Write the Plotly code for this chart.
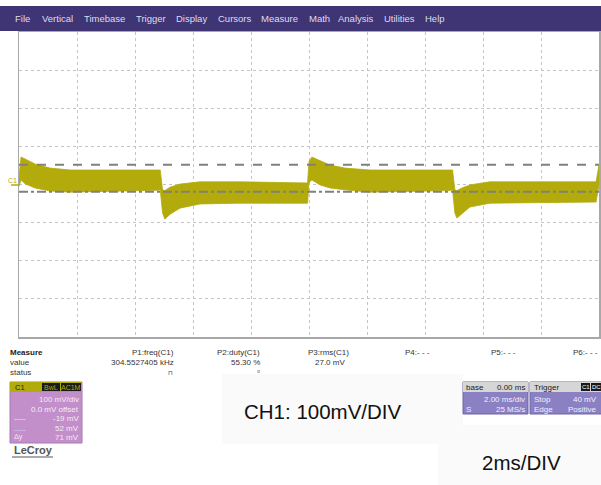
import plotly.graph_objects as go

# ---------------- data ----------------
# waveform envelope of C1: time in ms (2 ms/div, trigger at 0), voltage in mV (100 mV/div)
t_ms = [-10.00, -9.93, -9.79, -9.45, -8.93, -8.24, -5.20, -5.13, -5.05, -4.97, -4.79,
        -4.45, -3.76, -2.38, -0.05, 0.00, 0.10, 0.38, 0.72, 1.24, 2.10, 4.85, 4.95,
        5.03, 5.10, 5.28, 5.55, 6.24, 9.90, 10.00]
upper_mv = [20, 72, 67, 54, 43, 38, 38, 38, -14, -16, -7,
            1, 7, 7, 4, 60, 72, 62, 51, 43, 38, 38, 38,
            -14, -16, -9, -1, 7, 7, 51]
lower_mv = [-5, 12, 2, -9, -17, -20, -15, -14, -75, -91, -78,
            -62, -51, -49, -49, 5, 12, -1, -9, -14, -20, -16, -14,
            -75, -88, -75, -59, -49, -46, 0]
cursor_upper_mv = 52
cursor_lower_mv = -19
trigger_level_mv = 40
trigger_time_ms = 0

menu_items = ["File", "Vertical", "Timebase", "Trigger", "Display", "Cursors",
              "Measure", "Math", "Analysis", "Utilities", "Help"]
measure_params = ["P1:freq(C1)", "P2:duty(C1)", "P3:rms(C1)", "P4:- - -", "P5:- - -", "P6:- - -"]
measure_values = ["304.5527405 kHz", "55.30 %", "27.0 mV", "", "", ""]
ch_rows = ["100 mV/div", "0.0 mV offset", "-19 mV", "52 mV", "71 mV"]
ch_row_labels = ["", "", "-----", "......", "Δy"]

# ---------------- layout helpers ----------------
W, H = 601, 485
FONT = "Liberation Sans"
TRACE = "#b3ab0c"


def X(px):
    return px / W


def Y(py):
    return 1 - py / H


fig = go.Figure()

fig.add_trace(go.Scatter(
    x=t_ms + t_ms[::-1], y=upper_mv + lower_mv[::-1],
    fill="toself", fillcolor=TRACE, mode="lines",
    line=dict(color=TRACE, width=0.8), hoverinfo="skip", showlegend=False))

# trigger position marker (bottom) and trigger level marker (right)
fig.add_trace(go.Scatter(x=[trigger_time_ms], y=[-410], mode="markers",
                         marker=dict(symbol="triangle-up", size=7, color="#c9c200"),
                         cliponaxis=False, showlegend=False, hoverinfo="skip"))
fig.add_trace(go.Scatter(x=[10.05], y=[trigger_level_mv], mode="markers",
                         marker=dict(symbol="triangle-left", size=6, color="#c9c200"),
                         cliponaxis=False, showlegend=False, hoverinfo="skip"))

fig.add_hline(y=cursor_upper_mv, line=dict(color="#808080", width=2, dash="dash"))
fig.add_hline(y=cursor_lower_mv, line=dict(color="#808080", width=2, dash="dashdot"))

shapes = []
ann = []

# menu bar
shapes.append(dict(type="rect", xref="paper", yref="paper", x0=0, x1=1, y0=Y(31), y1=Y(6),
                   fillcolor="#403574", line=dict(width=0), layer="above"))
menu_x = [13, 40, 82, 134, 174, 216, 259, 307, 336, 382, 423]
for name, mx in zip(menu_items, menu_x):
    ann.append(dict(x=X(mx), y=Y(19), text=name, xanchor="left", yanchor="middle",
                    font=dict(family=FONT, size=9.5, color="#dcdcf0")))

# C1 ground marker
ann.append(dict(x=X(12), y=Y(180), text="C1", xanchor="center", yanchor="middle",
                font=dict(family=FONT, size=7, color=TRACE)))
shapes.append(dict(type="line", xref="paper", yref="paper", x0=X(11), x1=X(19), y0=Y(185), y1=Y(185),
                   line=dict(color=TRACE, width=1.5)))

# measure table
ann.append(dict(x=X(8), y=Y(352), text="<b>Measure</b>", xanchor="left", yanchor="middle",
                font=dict(family=FONT, size=8, color="#222")))
ann.append(dict(x=X(8), y=Y(362), text="value", xanchor="left", yanchor="middle",
                font=dict(family=FONT, size=8, color="#333")))
ann.append(dict(x=X(8), y=Y(372), text="status", xanchor="left", yanchor="middle",
                font=dict(family=FONT, size=8, color="#333")))
col_right = [176, 262, 347, 432, 518, 600]
for p, v, cx in zip(measure_params, measure_values, col_right):
    if p.startswith("P3"):
        ann.append(dict(x=X(306), y=Y(352), text=p, xanchor="left", yanchor="middle",
                        font=dict(family=FONT, size=8, color="#333")))
    else:
        ann.append(dict(x=X(cx), y=Y(352), text=p, xanchor="right", yanchor="middle",
                        font=dict(family=FONT, size=8, color="#333")))
    if v:
        ann.append(dict(x=X(cx), y=Y(362), text=v, xanchor="right", yanchor="middle",
                        font=dict(family=FONT, size=8, color="#333")))
ann.append(dict(x=X(170), y=Y(372), text="⊓", xanchor="center", yanchor="middle",
                font=dict(family="DejaVu Sans", size=6, color="#333")))
ann.append(dict(x=X(258), y=Y(371), text="¤", xanchor="center", yanchor="middle",
                font=dict(family="DejaVu Sans", size=5, color="#555")))

# overlay boxes
shapes.append(dict(type="rect", xref="paper", yref="paper", x0=X(222), x1=X(463), y0=Y(444), y1=Y(374),
                   fillcolor="#fafafa", line=dict(width=0), layer="above"))
shapes.append(dict(type="rect", xref="paper", yref="paper", x0=X(438), x1=1, y0=0, y1=Y(425),
                   fillcolor="#fafafa", line=dict(width=0), layer="above"))
ann.append(dict(x=X(323), y=Y(411), text="CH1: 100mV/DIV", xanchor="center", yanchor="middle",
                font=dict(family=FONT, size=20.5, color="#111")))
ann.append(dict(x=X(521), y=Y(462), text="2ms/DIV", xanchor="center", yanchor="middle",
                font=dict(family=FONT, size=20.5, color="#111")))

# C1 channel box
shapes.append(dict(type="rect", xref="paper", yref="paper", x0=X(10), x1=X(82), y0=Y(443), y1=Y(382),
                   fillcolor="#c38fcb", line=dict(color="#a878b0", width=1), layer="above"))
shapes.append(dict(type="rect", xref="paper", yref="paper", x0=X(10), x1=X(82), y0=Y(392), y1=Y(382),
                   fillcolor=TRACE, line=dict(width=0), layer="above"))
shapes.append(dict(type="rect", xref="paper", yref="paper", x0=X(42), x1=X(60), y0=Y(391), y1=Y(383),
                   fillcolor="#1a1a1a", line=dict(width=0), layer="above"))
shapes.append(dict(type="rect", xref="paper", yref="paper", x0=X(61), x1=X(81), y0=Y(391), y1=Y(383),
                   fillcolor="#1a1a1a", line=dict(width=0), layer="above"))
ann.append(dict(x=X(13), y=Y(387), text="C1", xanchor="left", yanchor="middle",
                font=dict(family=FONT, size=7.5, color="#222")))
ann.append(dict(x=X(51), y=Y(387), text="BwL", xanchor="center", yanchor="middle",
                font=dict(family=FONT, size=7, color=TRACE)))
ann.append(dict(x=X(71), y=Y(387), text="AC1M", xanchor="center", yanchor="middle",
                font=dict(family=FONT, size=7, color=TRACE)))
row_y = [399, 409, 418, 428, 437]
for txt, lab, ry in zip(ch_rows, ch_row_labels, row_y):
    ann.append(dict(x=X(81), y=Y(ry), text=txt, xanchor="right", yanchor="middle",
                    font=dict(family=FONT, size=8, color="#f4eaf6")))
    if lab:
        ann.append(dict(x=X(12), y=Y(ry), text=lab, xanchor="left", yanchor="middle",
                        font=dict(family=FONT, size=7, color="#f4eaf6")))

# LeCroy logo
ann.append(dict(x=X(12), y=Y(450), text="<b>LeCroy</b>", xanchor="left", yanchor="middle",
                font=dict(family=FONT, size=11, color="#555")))
shapes.append(dict(type="line", xref="paper", yref="paper", x0=X(12), x1=X(53), y0=Y(457), y1=Y(457),
                   line=dict(color="#555", width=1)))

# timebase box (partly hidden)
shapes.append(dict(type="rect", xref="paper", yref="paper", x0=X(463), x1=X(528), y0=Y(414), y1=Y(382),
                   fillcolor="#8a80c2", line=dict(color="#6e66a6", width=1), layer="above"))
shapes.append(dict(type="rect", xref="paper", yref="paper", x0=X(463), x1=X(528), y0=Y(392), y1=Y(382),
                   fillcolor="#d6d6d6", line=dict(width=0), layer="above"))
ann.append(dict(x=X(464), y=Y(387), text="base", xanchor="left", yanchor="middle",
                font=dict(family=FONT, size=8, color="#222")))
ann.append(dict(x=X(527), y=Y(387), text="0.00 ms", xanchor="right", yanchor="middle",
                font=dict(family=FONT, size=8, color="#222")))
ann.append(dict(x=X(527), y=Y(399), text="2.00 ms/div", xanchor="right", yanchor="middle",
                font=dict(family=FONT, size=8, color="#f0f0ff")))
ann.append(dict(x=X(464), y=Y(409), text="S", xanchor="left", yanchor="middle",
                font=dict(family=FONT, size=8, color="#f0f0ff")))
ann.append(dict(x=X(527), y=Y(409), text="25 MS/s", xanchor="right", yanchor="middle",
                font=dict(family=FONT, size=8, color="#f0f0ff")))

# trigger box
shapes.append(dict(type="rect", xref="paper", yref="paper", x0=X(530), x1=X(603), y0=Y(414), y1=Y(382),
                   fillcolor="#8a80c2", line=dict(color="#6e66a6", width=1), layer="above"))
shapes.append(dict(type="rect", xref="paper", yref="paper", x0=X(530), x1=X(603), y0=Y(392), y1=Y(382),
                   fillcolor="#d6d6d6", line=dict(width=0), layer="above"))
shapes.append(dict(type="rect", xref="paper", yref="paper", x0=X(581), x1=X(590), y0=Y(391), y1=Y(383),
                   fillcolor="#1a1a1a", line=dict(width=0), layer="above"))
shapes.append(dict(type="rect", xref="paper", yref="paper", x0=X(591), x1=X(601), y0=Y(391), y1=Y(383),
                   fillcolor="#1a1a1a", line=dict(width=0), layer="above"))
ann.append(dict(x=X(532), y=Y(387), text="Trigger", xanchor="left", yanchor="middle",
                font=dict(family=FONT, size=8, color="#222")))
ann.append(dict(x=X(585.5), y=Y(387), text="C1", xanchor="center", yanchor="middle",
                font=dict(family=FONT, size=6, color="#ffffff")))
ann.append(dict(x=X(596), y=Y(387), text="DC", xanchor="center", yanchor="middle",
                font=dict(family=FONT, size=6, color="#ffffff")))
ann.append(dict(x=X(532), y=Y(399), text="Stop", xanchor="left", yanchor="middle",
                font=dict(family=FONT, size=8, color="#f0f0ff")))
ann.append(dict(x=X(599), y=Y(399), text="40 mV", xanchor="right", yanchor="middle",
                font=dict(family=FONT, size=8, color="#f0f0ff")))
ann.append(dict(x=X(532), y=Y(409), text="Edge", xanchor="left", yanchor="middle",
                font=dict(family=FONT, size=8, color="#f0f0ff")))
ann.append(dict(x=X(599), y=Y(409), text="Positive", xanchor="right", yanchor="middle",
                font=dict(family=FONT, size=8, color="#f0f0ff")))

for a in ann:
    a["xref"] = "paper"
    a["yref"] = "paper"
    a["showarrow"] = False

fig.update_layout(
    width=W, height=H, autosize=False,
    margin=dict(l=0, r=0, t=0, b=0),
    paper_bgcolor="white", plot_bgcolor="white",
    showlegend=False, hovermode=False,
    shapes=list(fig.layout.shapes) + shapes,
    annotations=ann,
    xaxis=dict(domain=[X(19), X(599)], range=[-10, 10], dtick=2, tick0=-10,
               showgrid=True, gridcolor="#c4c4c4", griddash="dot", gridwidth=1,
               showticklabels=False, ticks="", zeroline=False,
               showline=True, mirror=True, linecolor="#a8a8a8", linewidth=1.5, fixedrange=True),
    yaxis=dict(domain=[Y(337), Y(32)], range=[-400, 400], dtick=100, tick0=-400,
               showgrid=True, gridcolor="#c4c4c4", griddash="dot", gridwidth=1,
               showticklabels=False, ticks="", zeroline=False,
               showline=True, mirror=True, linecolor="#a8a8a8", linewidth=1.5, fixedrange=True),
)

fig.write_html("out.html", config={"displayModeBar": False, "staticPlot": True},
               post_script="document.body.style.margin='0';document.body.style.overflow='hidden';")
